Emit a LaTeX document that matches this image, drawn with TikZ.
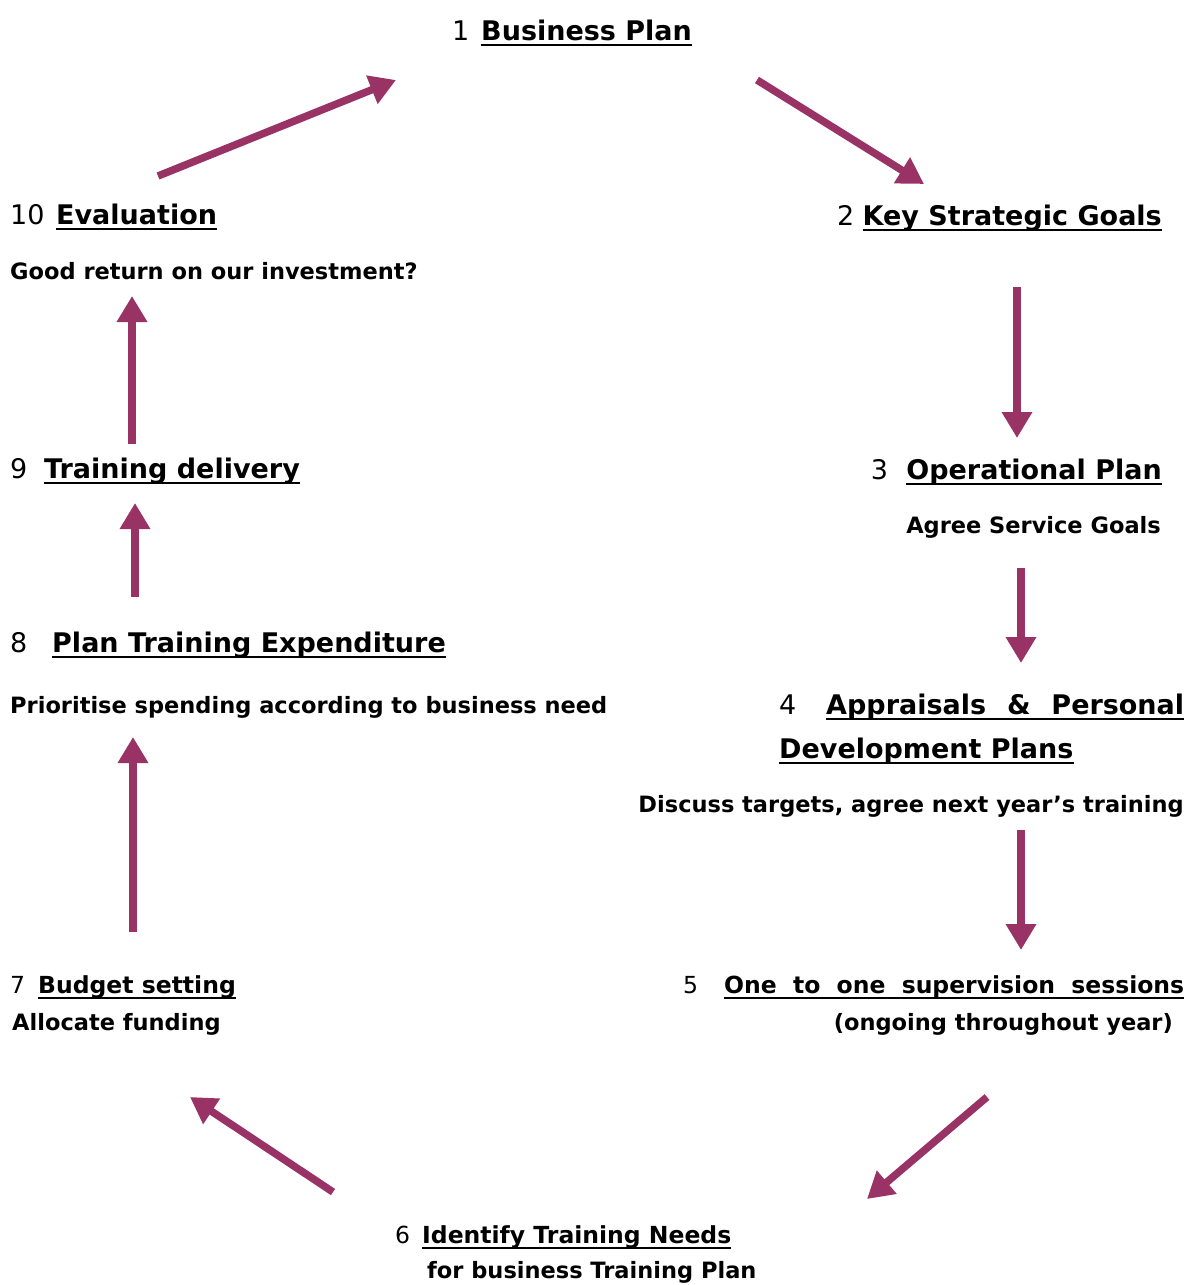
\documentclass[tikz,border=0pt]{standalone}
\usepackage{fontspec}
\setmainfont{DejaVu Sans}
\usetikzlibrary{arrows.meta}
\definecolor{arr}{HTML}{993366}
\tikzset{
 flow/.style={draw=arr, line width=7.5pt, -{Triangle[length=26pt,width=29pt]}},
 num/.style={anchor=base west, inner sep=0pt, font=\fontsize{27}{32}\selectfont},
 head/.style={anchor=base west, inner sep=0pt, font=\fontsize{27}{32}\selectfont\bfseries},
 numm/.style={anchor=base west, inner sep=0pt, font=\fontsize{23.5}{28}\selectfont},
 headm/.style={anchor=base west, inner sep=0pt, font=\fontsize{23.5}{28}\selectfont\bfseries},
 sub/.style={anchor=base west, inner sep=0pt, font=\fontsize{22.5}{28}\selectfont\bfseries},
 ul/.style={line width=2pt},
}
\begin{document}
\begin{tikzpicture}[x=1pt,y=-1pt]
\useasboundingbox[fill=white] (0,0) rectangle (1188,1285);
% 1
\node[num] (n1) at (452,40) {1};
\node[head] (h1) at (481,40) {Business Plan};
% 2
\node[head,anchor=base east] (h2) at (1162,225) {Key Strategic Goals};
\node[num,anchor=base east] (n2) at ([xshift=-8pt]h2.base west) {2};
% 3
\node[head,anchor=base east] (h3) at (1162,479) {Operational Plan};
\node[num,anchor=base east] (n3) at ([xshift=-18pt]h3.base west) {3};
\node[sub,anchor=base east] (s3) at (1161,533) {Agree Service Goals};
% 4
\node[num] (n4) at (779,714) {4};
\node[head] (h4a) at (826,714) {\makebox[358pt][s]{Appraisals \& Personal}};
\node[head] (h4b) at (779,758) {Development Plans};
\node[sub,anchor=base east] (s4) at (1184,812) {Discuss targets, agree next year’s training};
% 5
\node[numm] (n5) at (683,993) {5};
\node[headm] (h5) at (724,993) {\makebox[460pt][s]{One to one supervision sessions}};
\node[sub,anchor=base east] (s5) at (1173,1030) {(ongoing throughout year)};
% 6
\node[numm] (n6) at (395,1243) {6};
\node[headm] (h6) at (422,1243) {Identify Training Needs};
\node[sub] (s6) at (427,1278) {for business Training Plan};
% 7
\node[numm] (n7) at (10,993) {7};
\node[headm] (h7) at (38,993) {Budget setting};
\node[sub] (s7) at (12,1030) {Allocate funding};
% 8
\node[num] (n8) at (10,652) {8};
\node[head] (h8) at (52,652) {Plan Training Expenditure};
\node[sub] (s8) at (10,713) {Prioritise spending according to business need};
% 9
\node[num] (n9) at (10,478) {9};
\node[head] (h9) at (44,478) {Training delivery};
% 10
\node[num] (n10) at (10,224) {10};
\node[head] (h10) at (56,224) {Evaluation};
\node[sub] (s10) at (10,279) {Good return on our investment?};
% underlines
\foreach \h in {h1,h2,h3,h4a,h4b,h5,h6,h7,h8,h9,h10}{
  \draw[ul] ([yshift=-5pt]\h.base west) -- ([yshift=-5pt]\h.base east);
}
% arrow coordinates
\coordinate (a1s) at (158,176); \coordinate (a1e) at (396,80);
\coordinate (a2s) at (757,80); \coordinate (a2e) at (924,184);
\coordinate (a3s) at (1017,287); \coordinate (a3e) at (1017,438);
\coordinate (a4s) at (1021,568); \coordinate (a4e) at (1021,663);
\coordinate (a5s) at (1021,830); \coordinate (a5e) at (1021,950);
\coordinate (a6s) at (987,1097); \coordinate (a6e) at (867,1199);
\coordinate (a7s) at (333,1192); \coordinate (a7e) at (190,1097);
\coordinate (a8s) at (133,932); \coordinate (a8e) at (133,737);
\coordinate (a9s) at (135,597); \coordinate (a9e) at (135,503);
\coordinate (a10s) at (132,444); \coordinate (a10e) at (132,296);
\foreach \i in {1,...,10}{ \draw[flow] (a\i s) -- (a\i e); }
\end{tikzpicture}
\end{document}
